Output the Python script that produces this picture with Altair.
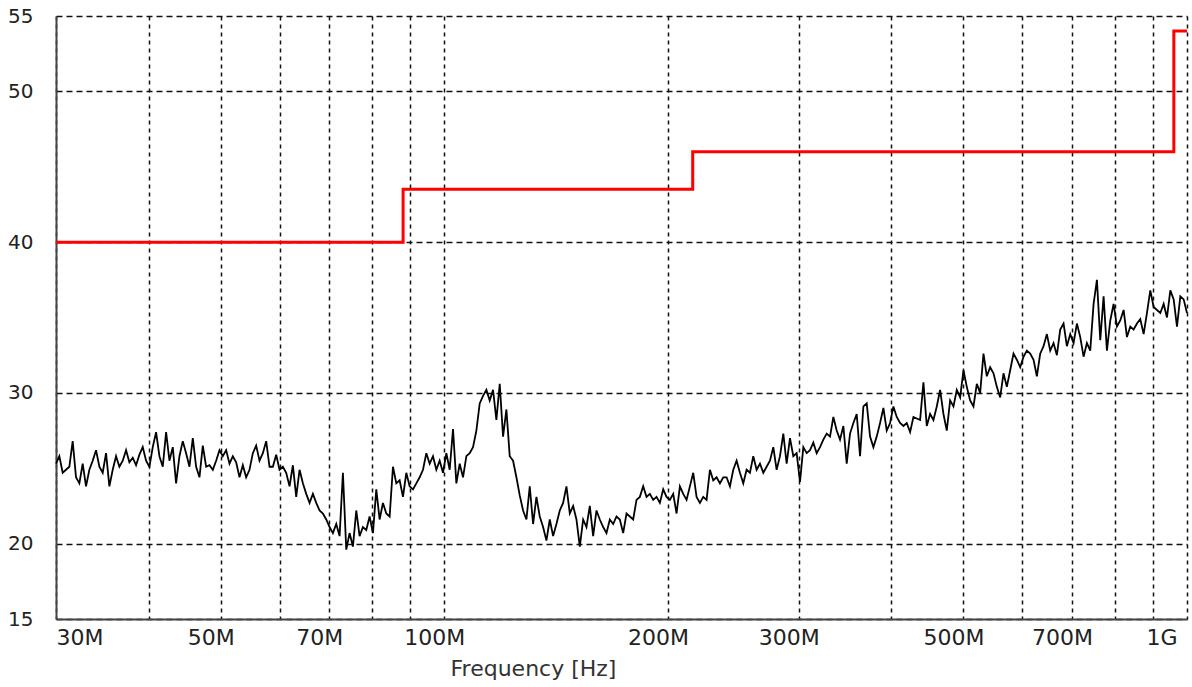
import json

import altair as alt
import numpy as np
import pandas as pd

# Radiated emission, peak detector, dBuV/m — one reading per sweep step,
# sweep 30 MHz .. 1 GHz on a logarithmic frequency grid.
level_a = [
    25.3, 25.8, 24.7, 24.9, 25.1, 26.8, 24.4, 24.0, 25.3, 23.8,
    24.9, 25.5, 26.2, 25.1, 24.7, 26.0, 23.8, 24.9, 25.8, 25.1,
    25.5, 26.2, 25.4, 25.7, 25.2, 25.9, 26.4, 25.5, 25.1, 26.4,
    27.4, 25.8, 25.1, 27.4, 25.5, 26.4, 24.0, 25.8, 26.8, 26.0,
    25.1, 27.0, 25.1, 24.4, 26.5, 25.1, 25.2, 24.9, 25.5, 26.2,
    25.8, 26.2, 25.3, 25.8, 25.4, 24.4, 25.2, 24.4, 24.9, 26.0,
    26.5, 25.5, 26.0, 26.8, 25.1, 25.1, 25.9, 24.9, 25.1,
]
level_b = [
    24.7, 23.8, 25.2, 23.1, 24.9, 24.0, 23.3, 22.7, 23.3, 22.7,
    22.2, 22.0, 21.6, 21.1, 20.7, 21.3, 20.5, 24.7, 19.6, 20.7,
    19.8, 22.2, 20.5, 21.1, 20.9, 21.8, 20.7, 23.6, 21.6, 22.7,
    22.0, 21.8, 25.1, 24.0, 24.2, 23.1, 24.7, 23.8, 23.6, 24.0,
    24.4, 24.9, 26.0, 25.3, 25.8, 24.9, 25.5, 24.7, 26.0, 24.9,
    27.6, 24.0, 25.3, 24.4, 25.8, 26.0, 26.4, 27.5, 29.3, 29.8,
    30.2, 29.5, 30.2, 28.2, 30.6, 27.1, 28.9, 25.8,
]
level_c = [
    25.5, 24.4, 23.2, 22.2, 21.6, 23.8, 21.3, 23.1, 21.8, 21.1,
    20.2, 21.6, 20.5, 21.3, 22.2, 22.7, 23.8, 22.0, 22.5, 21.6,
    19.8, 21.6, 21.1, 22.5, 20.5, 22.2, 21.6, 21.1, 20.7, 21.6,
    21.3, 21.8, 21.6, 20.7, 22.0, 21.8, 21.6, 22.9, 23.1, 23.8,
    23.1, 23.3, 22.9, 23.1, 22.7, 23.6, 23.1, 22.9, 23.3, 22.0,
    23.8, 23.3, 22.9, 23.8, 24.7, 23.1, 22.7, 23.1, 22.9, 24.9,
    24.2, 24.4, 24.0, 24.4, 24.4, 23.8,
]
level_d = [
    24.9, 25.5, 24.7, 24.0, 24.9, 24.7, 25.8, 24.9, 25.3, 24.7,
    25.1, 25.5, 26.4, 24.9, 25.8, 27.3, 25.3, 27.0, 25.8, 26.0,
    24.1, 26.4, 26.0, 26.2, 26.7, 26.0, 26.4, 26.9, 27.3, 27.1,
    28.4, 27.5, 26.9, 27.8, 25.3, 27.3, 28.0, 28.6, 25.8, 29.1,
    29.3, 27.1, 26.4, 27.1, 28.0, 29.0, 27.5, 28.0, 29.1, 28.4,
    28.0, 27.8, 28.0, 27.4, 28.4, 28.3, 28.2, 30.7, 27.8, 28.6,
    28.2, 29.1, 30.2, 28.6, 27.5, 29.5, 29.1, 30.2,
]
level_e = [
    29.7, 31.5, 30.4, 29.5, 29.1, 30.6, 30.0, 32.6, 31.1, 31.7,
    31.3, 30.4, 29.7, 31.3, 30.4, 31.5, 32.6, 32.2, 31.7, 32.4,
    32.8, 32.6, 32.2, 31.1, 32.6, 33.1, 33.9, 32.8, 33.3, 32.5,
    34.2, 34.6, 33.1, 33.9, 33.3, 34.6, 33.7, 32.4, 33.3, 32.8,
    35.9, 37.5, 33.5, 36.4, 32.8, 34.8, 35.9, 34.4, 34.8, 35.5,
    33.7, 34.4, 34.2, 34.6, 34.9, 33.9, 35.3, 36.8, 35.7, 35.5,
    35.3, 35.9, 35.0, 36.8, 36.2, 34.4, 36.4, 36.2, 35.3,
]
level = level_a + level_b + level_c + level_d + level_e
sweep_hz = np.geomspace(30e6, 1e9, len(level))

# Class B limit (3 m): 40 / 43.5 / 46 / 54 dBuV/m
limit_hz = [30e6, 88e6, 216e6, 960e6, 1e9]
limit_db = [40.0, 43.5, 46.0, 54.0, 54.0]

# Axis ticks / grid
x_ticks = [30_000_000, 40_000_000, 50_000_000, 60_000_000, 70_000_000,
           80_000_000, 90_000_000, 100_000_000, 200_000_000, 300_000_000,
           400_000_000, 500_000_000, 600_000_000, 700_000_000, 800_000_000,
           900_000_000, 1_000_000_000]
x_tick_text = ["30M", "", "50M", "", "70M", "", "", "100M", "200M", "300M",
               "", "500M", "", "700M", "", "", "1G"]
y_ticks = [15, 20, 30, 40, 50, 55]

trace_df = pd.DataFrame({"f": sweep_hz, "db": level})
limit_df = pd.DataFrame({"f": limit_hz, "db": limit_db})

FONT = "DejaVu Sans"
label_expr = f"{json.dumps(x_tick_text)}[indexof({json.dumps(x_ticks)}, datum.value)]"

x_enc = alt.X(
    "f:Q",
    scale=alt.Scale(type="log", domain=[30e6, 1e9], nice=False),
    axis=alt.Axis(
        values=x_ticks,
        labelExpr=label_expr,
        grid=True,
        gridDash=[4, 4],
        gridColor="#111111",
        gridWidth=1.5,
        ticks=False,
        tickSize=0,
        domainColor="#444444",
        domainWidth=2,
        labelFont=FONT,
        labelFontSize=22,
        labelColor="#222222",
        labelPadding=8,
        labelFlush=True,
        labelOverlap=False,
        labelBound=False,
        labelOffset={"condition": {"test": "datum.value <= 30000000", "value": 0}, "value": -10},
        title="Frequency [Hz]",
        titleFont=FONT,
        titleFontSize=22,
        titleFontWeight="normal",
        titleColor="#333333",
        titleX=477,
        titleY=39,
        titleAlign="center",
        titleBaseline="top",
    ),
)
y_enc = alt.Y(
    "db:Q",
    scale=alt.Scale(domain=[15, 55], nice=False, zero=False),
    axis=alt.Axis(
        values=y_ticks,
        grid=True,
        gridDash=[6, 4],
        gridColor="#111111",
        gridWidth=1.5,
        ticks=False,
        tickSize=0,
        domainColor="#444444",
        domainWidth=2,
        labelFont=FONT,
        labelFontSize=20,
        labelColor="#222222",
        labelPadding=23,
        labelFlush=False,
        labelOverlap=False,
        title=None,
    ),
)

trace = alt.Chart(trace_df).mark_line(color="#000000", strokeWidth=1.8).encode(x=x_enc, y=y_enc)
limit = alt.Chart(limit_df).mark_line(
    color="#ff0000", strokeWidth=3, interpolate="step-after"
).encode(x=x_enc, y=y_enc)

chart = (
    alt.layer(trace, limit)
    .properties(
        width=1131,
        height=603,
        autosize=alt.AutoSizeParams(type="none"),
        padding={"left": 56, "top": 16, "right": 5, "bottom": 68},
        background="white",
    )
    .configure_view(stroke=None)
)

chart.save("out.html", embed_options={"renderer": "svg", "actions": False})
